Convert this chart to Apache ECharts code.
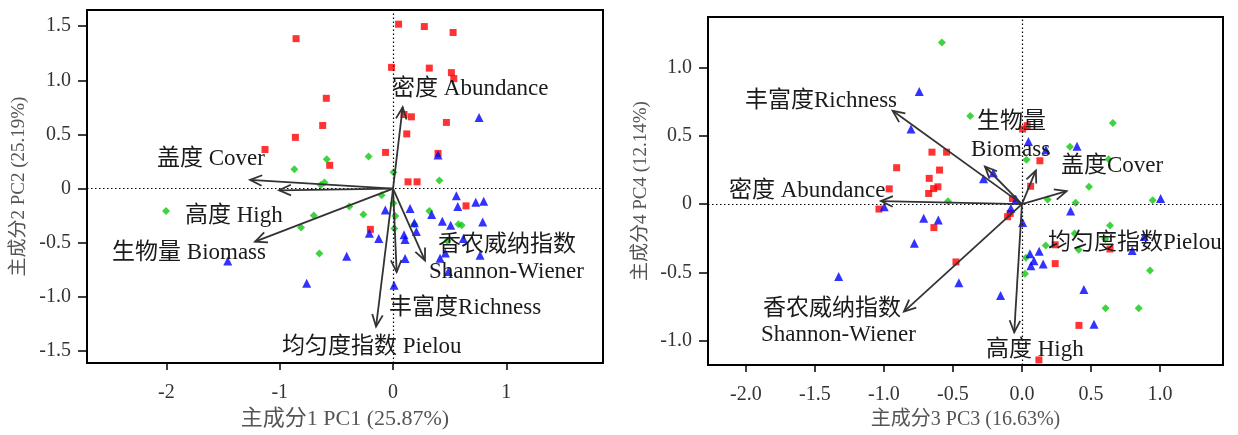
<!DOCTYPE html>
<html><head><meta charset="utf-8">
<script src="https://cdn.jsdelivr.net/npm/echarts@6/dist/echarts.min.js"></script>
<style>html,body{margin:0;padding:0;background:#fff}#c{width:1238px;height:435px}</style>
</head><body><div id="c"></div>
<script>
// ---------- Left panel: PC1 vs PC2 ----------
const pc12Red = [[-0.856,1.385],[0.049,1.519],[-0.013,1.12],[-0.589,0.834],[-0.621,0.583],[-0.862,0.473],[-1.13,0.361],[-0.066,0.334],[-0.559,0.215],[0.276,1.497],[0.530,1.442],[0.320,1.113],[0.515,1.071],[0.536,1.016],[0.097,0.684],[0.162,0.663],[0.471,0.611],[0.121,0.505],[0.397,0.325],[0.132,0.062],[0.212,0.062],[-0.2,-0.377],[0.644,-0.16]];
const pc12Green = [[-0.585,0.270],[-0.871,0.178],[-0.216,0.297],[0.004,0.151],[0.409,0.075],[-0.606,0.057],[-0.638,0.032],[-0.100,-0.062],[-2.003,-0.208],[-0.386,-0.166],[-0.700,-0.249],[-0.262,-0.239],[-0.812,-0.361],[-0.650,-0.601],[0.003,-0.135],[0.020,-0.254],[0.011,-0.370],[0.320,-0.208],[0.577,-0.331],[0.606,-0.340],[0.188,-0.331],[0.479,-0.483]];
const pc12Blue = [[0.759,0.656],[0.397,0.309],[0.559,-0.066],[0.571,-0.166],[0.730,-0.126],[0.800,-0.117],[-0.068,-0.199],[0.150,-0.185],[0.341,-0.239],[0.435,-0.303],[0.509,-0.340],[0.791,-0.309],[0.188,-0.315],[0.206,-0.398],[-0.209,-0.413],[-0.126,-0.462],[0.097,-0.428],[0.106,-0.471],[0.621,-0.462],[0.462,-0.596],[0.415,-0.644],[0.768,-0.617],[0.106,-0.647],[-1.459,-0.669],[-0.409,-0.626],[-0.762,-0.876],[0.009,-0.894],[0.488,-0.766]];
// arrow tips (loadings), order: Abundance, Cover, High, Biomass, Pielou, Richness, Shannon
const pc12Arrows = [[0.085,0.752],[-1.262,0.081],[-1.006,-0.016],[-1.218,-0.491],[-0.150,-1.275],[0.032,-0.772],[0.282,-0.665]];
const pc12LabelText = ['密度 Abundance','盖度 Cover','高度 High','生物量 Biomass','均匀度指数 Pielou','丰富度Richness','香农威纳指数','Shannon-Wiener'];
const pc12LabelAt = [[-0.009,0.946],[-2.083,0.297],[-1.836,-0.224],[-2.48,-0.571],[-0.98,-1.44],[-0.035,-1.074],[0.397,-0.498],[0.318,-0.745]];
const pc1Ticks = [-2,-1,0,1];
const pc1TickLabels = ['-2','-1','0','1'];
const pc2Ticks = [1.5,1,0.5,0,-0.5,-1,-1.5];
const pc2TickLabels = ['1.5','1.0','0.5','0','-0.5','-1.0','-1.5'];

// ---------- Right panel: PC3 vs PC4 ----------
const pc34Red = [[0.005,0.551],[0.038,0.575],[-0.652,0.381],[-0.546,0.381],[-0.908,0.267],[-0.597,0.250],[-0.672,0.189],[-0.609,0.127],[-0.640,0.114],[-0.676,0.078],[-0.962,0.112],[-0.069,0.041],[-1.036,-0.036],[0.130,0.318],[0.063,0.131],[-0.085,-0.068],[-0.104,-0.092],[-0.638,-0.172],[-0.478,-0.424],[0.241,-0.298],[0.638,-0.329],[0.241,-0.436],[0.413,-0.889],[0.123,-1.142]];
const pc34Green = [[-0.580,1.185],[-0.375,0.647],[0.033,0.325],[-0.536,0.022],[0.348,0.420],[0.659,0.594],[0.628,0.330],[0.486,0.127],[0.186,0.034],[0.389,0.010],[0.947,0.029],[0.638,-0.157],[0.382,-0.215],[0.172,-0.303],[0.411,-0.335],[0.604,-0.255],[0.029,-0.393],[0.022,-0.511],[0.928,-0.487],[0.606,-0.764],[0.846,-0.764]];
const pc34Blue = [[-0.744,0.825],[-0.804,0.551],[-0.208,0.231],[-0.278,0.187],[-0.043,0.034],[-0.998,-0.019],[0.047,0.460],[0.174,0.398],[0.399,0.425],[1.005,0.041],[0.353,-0.051],[-0.080,-0.031],[0.005,-0.135],[0.886,-0.237],[0.799,-0.339],[0.058,-0.364],[0.125,-0.346],[0.087,-0.415],[0.065,-0.451],[0.154,-0.439],[0.449,-0.625],[-0.155,-0.669],[-0.457,-0.577],[0.522,-0.880],[-0.712,-0.104],[-0.606,-0.116],[-0.780,-0.286],[-1.328,-0.531]];
// order: Abundance, Richness, Biomass, Cover, Pielou, Shannon, High
const pc34Arrows = [[-1.022,0.022],[-0.937,0.684],[-0.268,0.276],[0.324,0.095],[0.101,0.247],[-0.855,-0.788],[-0.056,-0.94]];
const pc34LabelText = ['丰富度Richness','生物量','Biomass','盖度Cover','密度 Abundance','均匀度指数Pielou','香农威纳指数','Shannon-Wiener','高度 High'];
const pc34LabelAt = [[-2.007,0.776],[-0.326,0.623],[-0.37,0.42],[0.283,0.303],[-2.123,0.121],[0.188,-0.264],[-1.877,-0.744],[-1.891,-0.94],[-0.261,-1.05]];
const pc3Ticks = [-2,-1.5,-1,-0.5,0,0.5,1];
const pc3TickLabels = ['-2.0','-1.5','-1.0','-0.5','0.0','0.5','1.0'];
const pc4Ticks = [1,0.5,0,-0.5,-1];
const pc4TickLabels = ['1.0','0.5','0','-0.5','-1.0'];

// ---------- rendering ----------
const FONT = "'Liberation Serif','Noto Sans CJK SC',serif";
const INK = '#333';
function fmt(vals, labels){
  return function(v){
    for (let i=0;i<vals.length;i++) if (Math.abs(v-vals[i])<1e-6) return labels[i];
    return '';
  };
}
function makeX(gi, min, max, ticks, labels, name, nameSize){
  return {gridIndex:gi, type:'value', min:min, max:max, splitLine:{show:false},
    axisLine:{onZero:false, lineStyle:{color:'#000', width:2}},
    axisTick:{customValues:ticks, length:7, lineStyle:{color:'#000', width:1.5}},
    axisLabel:{customValues:ticks, formatter:fmt(ticks,labels), margin:20, fontFamily:FONT, fontSize:20, color:'#333'},
    name:name, nameLocation:'middle', nameGap:42,
    nameTextStyle:{fontFamily:FONT, fontSize:nameSize, color:'#555'}};
}
function makeY(gi, min, max, ticks, labels, name, gap){
  return {gridIndex:gi, type:'value', min:min, max:max, splitLine:{show:false},
    axisLine:{onZero:false, lineStyle:{color:'#000', width:2}},
    axisTick:{customValues:ticks, length:9, lineStyle:{color:'#000', width:1.5}},
    axisLabel:{customValues:ticks, formatter:fmt(ticks,labels), margin:16, fontFamily:FONT, fontSize:20, color:'#333'},
    name:name, nameLocation:'middle', nameGap:gap, nameRotate:90,
    nameTextStyle:{fontFamily:FONT, fontSize:19, color:'#555'}};
}
function arrowRender(params, api){
  const o = api.coord([0,0]);
  const t = api.coord([api.value(0), api.value(1)]);
  const ang = Math.atan2(t[1]-o[1], t[0]-o[0]);
  const L = 13, A = 0.42;
  const p1 = [t[0]-L*Math.cos(ang-A), t[1]-L*Math.sin(ang-A)];
  const p2 = [t[0]-L*Math.cos(ang+A), t[1]-L*Math.sin(ang+A)];
  return {type:'group', children:[
    {type:'line', shape:{x1:o[0],y1:o[1],x2:t[0],y2:t[1]}, style:{stroke:INK, lineWidth:1.8}},
    {type:'polyline', shape:{points:[p1,t,p2]}, style:{stroke:INK, lineWidth:1.8, fill:null}}
  ]};
}
function labelRender(texts){
  return function(params, api){
    const p = api.coord([api.value(0), api.value(1)]);
    return {type:'text', x:p[0], y:p[1] + 3, style:{text:texts[params.dataIndex], fill:'#1a1a1a', font:'23px '+FONT, align:'left', verticalAlign:'middle'}};
  };
}
function panelSeries(gi, red, green, blue, arrows, labelAt, labelText){
  return [
    {type:'scatter', xAxisIndex:gi, yAxisIndex:gi, data:red, symbol:'rect', symbolSize:7, itemStyle:{color:'#ff0000'}, silent:true,
     markLine:{silent:true, symbol:'none', label:{show:false}, lineStyle:{type:[1.5,2.5], color:'#000', width:1.2}, data:[{xAxis:0},{yAxis:0}]}},
    {type:'scatter', xAxisIndex:gi, yAxisIndex:gi, data:green, symbol:'diamond', symbolSize:8, itemStyle:{color:'#10c810'}, silent:true},
    {type:'scatter', xAxisIndex:gi, yAxisIndex:gi, data:blue, symbol:'triangle', symbolSize:9, itemStyle:{color:'#0000ff'}, silent:true},
    {type:'custom', xAxisIndex:gi, yAxisIndex:gi, data:arrows, renderItem:arrowRender, encode:{x:0,y:1}, clip:false, silent:true, z:5},
    {type:'custom', xAxisIndex:gi, yAxisIndex:gi, data:labelAt, renderItem:labelRender(labelText), encode:{x:0,y:1}, clip:false, silent:true, z:6}
  ];
}
const chart = echarts.init(document.getElementById('c'));
chart.setOption({
  animation:false,
  backgroundColor:'#fff',
  grid:[
    {left:87, top:10, width:516, height:357, show:true, borderColor:'#000', borderWidth:2, containLabel:false},
    {left:708, top:17, width:515, height:351, show:true, borderColor:'#000', borderWidth:2, containLabel:false}
  ],
  xAxis:[
    makeX(0, -2.701, 1.853, pc1Ticks, pc1TickLabels, '主成分1 PC1 (25.87%)', 22),
    makeX(1, -2.275, 1.457, pc3Ticks, pc3TickLabels, '主成分3 PC3 (16.63%)', 20)
  ],
  yAxis:[
    makeY(0, -1.613, 1.65, pc2Ticks, pc2TickLabels, '主成分2 PC2 (25.19%)', 58),
    makeY(1, -1.18, 1.372, pc4Ticks, pc4TickLabels, '主成分4 PC4 (12.14%)', 57)
  ],
  series:[].concat(
    panelSeries(0, pc12Red, pc12Green, pc12Blue, pc12Arrows, pc12LabelAt, pc12LabelText),
    panelSeries(1, pc34Red, pc34Green, pc34Blue, pc34Arrows, pc34LabelAt, pc34LabelText)
  )
});
</script>
</body></html>
